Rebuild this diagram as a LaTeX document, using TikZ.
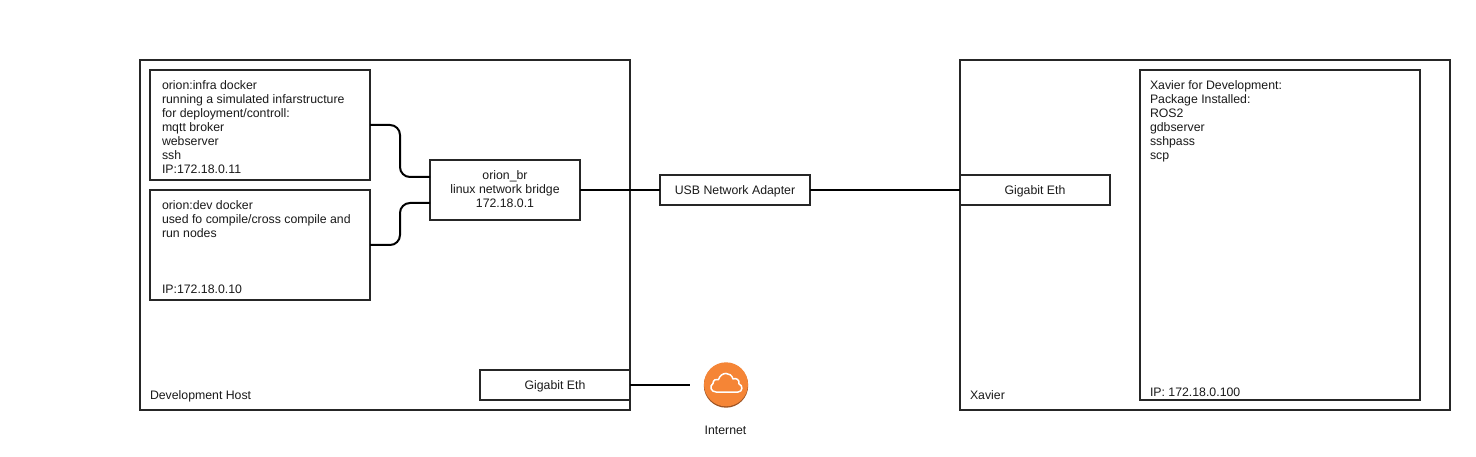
\documentclass[tikz,border=0pt]{standalone}
\usepackage{fontspec}
\setmainfont{Liberation Sans}
\definecolor{linec}{HTML}{262626}
\definecolor{txt}{HTML}{1A1A1A}
\definecolor{cloudo}{HTML}{F58536}
\definecolor{cloudd}{HTML}{9E5424}
\tikzset{
  box/.style={draw=linec,line width=2pt,fill=white,rectangle,inner sep=0pt,outer sep=0pt,anchor=north west,font=\fontsize{12.3}{14}\selectfont,text=txt,align=center},
  oneline/.style={text height=9pt,text depth=0pt},
  lbl/.style={inner sep=0pt,outer sep=0pt,anchor=north west,align=left,text=txt,font=\fontsize{12.3}{14}\selectfont},
  wire/.style={draw=black,line width=2pt,rounded corners=10pt},
}
\begin{document}
\begin{tikzpicture}[x=1pt,y=-1pt]
\useasboundingbox[fill=white] (0,0) rectangle (1476,457);
% containers
\node[box,minimum width=490pt,minimum height=350pt] (host) at (140,60) {};
\node[box,minimum width=490pt,minimum height=350pt] (xavier) at (960,60) {};
\node[lbl] (hostl) at (150,391) {Development Host};
\node[lbl] (xavierl) at (970,391) {Xavier};
% docker boxes
\node[box,minimum width=220pt,minimum height=110pt] (infra) at (150,70) {};
\node[lbl] (infral) at (162,81) {orion:infra docker\\running a simulated infarstructure\\for deployment/controll:\\mqtt broker\\webserver\\ssh\\IP:172.18.0.11};
\node[box,minimum width=220pt,minimum height=110pt] (dev) at (150,190) {};
\node[lbl] (devl) at (162,201) {orion:dev docker\\used fo compile/cross compile and\\run nodes};
\node[lbl] (devip) at (162,285) {IP:172.18.0.10};
% bridge and adapters
\node[box,minimum width=150pt,minimum height=60pt] (br) at (430,160) {orion\_br\\linux network bridge\\172.18.0.1\rule[-2pt]{0pt}{2pt}};
\node[box,oneline,minimum width=150pt,minimum height=30pt] (usb) at (660,175) {USB Network Adapter};
\node[box,oneline,minimum width=150pt,minimum height=30pt] (gigx) at (960,175) {Gigabit Eth};
\node[box,oneline,minimum width=150pt,minimum height=30pt] (gigh) at (480,370) {Gigabit Eth};
% xavier inner
\node[box,minimum width=280pt,minimum height=330pt] (dev2) at (1140,70) {};
\node[lbl] (dev2l) at (1150,81) {Xavier for Development:\\Package Installed:\\ROS2\\gdbserver\\sshpass\\scp};
\node[lbl] (dev2ip) at (1150,388) {IP: 172.18.0.100};
% internet
\coordinate (netin) at (690,385);
\fill[cloudd] (726,385.5) circle (22.2pt);
\fill[cloudo] (726,384.3) circle (22pt);
\draw[white,line width=1.5pt,line join=round,fill=cloudo]
  (716,392) .. controls (711,392) and (709,386) .. (713,383.5)
  .. controls (713,380) and (716,378.5) .. (718.5,379.5)
  .. controls (721,371.5) and (731,371.5) .. (733,379)
  .. controls (736,377.5) and (740,380) .. (739,384)
  .. controls (743,385) and (743,392) .. (738,392) -- cycle;
\node[lbl,anchor=center] (net) at (725.5,430) {Internet};
% connectors
\draw[wire] (infra.east) -- ++(30,0) |- ([yshift=13pt]br.west);
\draw[wire] (dev.east) -- ++(30,0) |- ([yshift=-13pt]br.west);
\draw[wire] (br.east) -- (usb.west);
\draw[wire] (usb.east) -- (gigx.west);
\draw[wire] (gigh.east) -- (netin);
\end{tikzpicture}
\end{document}
